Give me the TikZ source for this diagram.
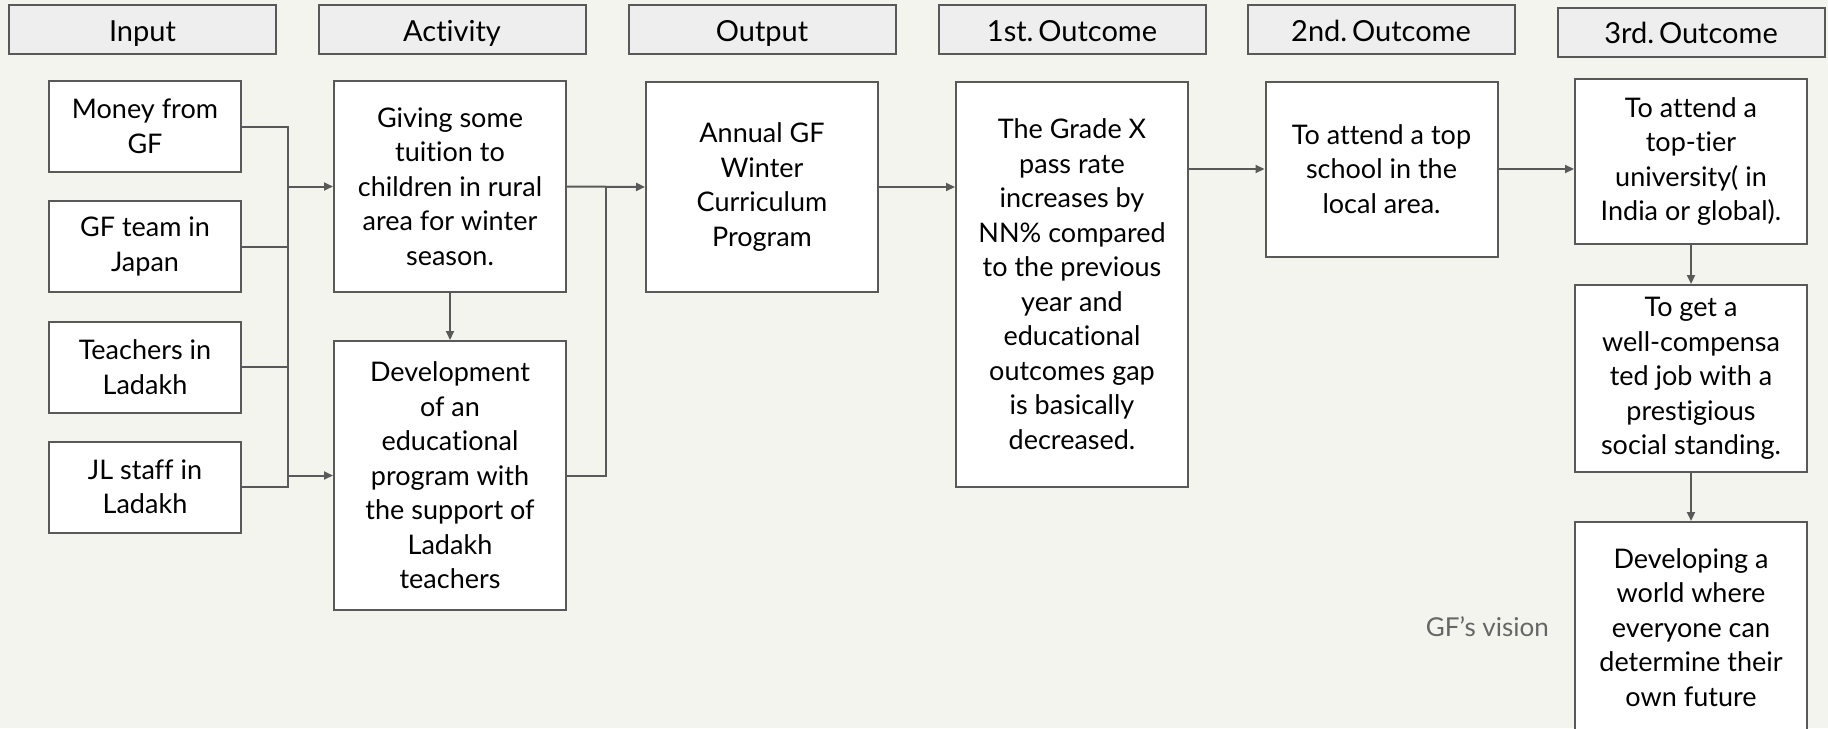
\documentclass[tikz,border=0pt]{standalone}
\usepackage{fontspec}
\setmainfont[Ligatures={TeX,NoCommon}]{Lato}
\usetikzlibrary{arrows.meta}

\definecolor{paper}{HTML}{F4F4EF}
\definecolor{linegray}{HTML}{595959}
\definecolor{headgray}{HTML}{EEEEEE}
\definecolor{visiongray}{HTML}{666666}

\tikzset{
	head/.style={draw=linegray, line width=2pt, fill=headgray, minimum width=267pt, minimum height=49pt, inner sep=0pt, text height=23.5pt, text depth=0pt, font=\fontsize{29}{34}\selectfont},
	box/.style={draw=linegray, line width=2pt, fill=white, align=center, inner sep=0pt, minimum width=232pt, font=\fontsize{27}{34.5}\selectfont},
	inbox/.style={box, minimum width=192pt, minimum height=91pt},
	wire/.style={draw=linegray, line width=2pt},
	link/.style={wire, -{Triangle[length=9pt,width=8pt]}},
}

\begin{document}
\begin{tikzpicture}[x=1pt, y=-1pt]
				\useasboundingbox[fill=paper] (0,0) rectangle (1828,728);
				
				% column heads
				\node[head] (hinput) at (142.5,29.5) {Input};
				\node[head] (hactivity) at (452,29.5) {Activity};
				\node[head] (houtput) at (762,29.5) {Output};
				\node[head] (hfirst) at (1072,29.5) {1st.\,Outcome};
				\node[head] (hsecond) at (1381,29.5) {2nd.\,Outcome};
				\node[head] (hthird) at (1691,32) {3rd.\,Outcome};
				
				% input
				\node[inbox] (money) at (145,126.5) {Money from\\GF};
				\node[inbox] (team) at (145,246.5) {GF team in\\Japan};
				\node[inbox] (teachers) at (145,367) {Teachers in\\Ladakh};
				\node[inbox] (staff) at (145,487) {JL staff in\\Ladakh};
				
				% activity
				\node[box, minimum height=211pt] (tuition) at (450,186.5) {Giving some\\tuition to\\children in rural\\area for winter\\season.};
				\node[box, minimum height=269pt] (develop) at (450,475.5) {Development\\of an\\educational\\program with\\the support of\\Ladakh\\teachers};
				
				% output and outcomes
				\node[box, minimum height=210pt] (program) at (762,187) {Annual GF\\Winter\\Curriculum\\Program};
				\node[box, minimum height=405pt] (grade) at (1072,284) {The Grade X\\pass rate\\increases by\\NN\% compared\\to the previous\\year and\\educational\\outcomes gap\\is basically\\decreased.};
				\node[box, minimum height=175pt] (school) at (1381.5,169) {To attend a top\\school in the\\local area.};
				\node[box, minimum height=165pt] (university) at (1691,161.5) {To attend a\\top-tier\\university( in\\India or global).};
				\node[box, minimum height=187pt] (job) at (1691,378.5) {To get a\\well-compensa\\ted job with a\\prestigious\\social standing.};
				\node[box, minimum height=211pt] (vision) at (1691,627.5) {Developing a\\world where\\everyone can\\determine their\\own future};
				\node[anchor=east, text=visiongray, inner sep=0pt, font=\fontsize{26}{30}\selectfont] (visionlabel) at (1549,627) {GF’s vision};
				
				% buses
				\coordinate (busin) at (288,0);
				\coordinate (busout) at (605.5,0);
				
				\draw[wire] (money.east) -| (busin |- staff.east) -- (staff.east);
				\draw[wire] (team.east) -- (team.east -| busin);
				\draw[wire] (teachers.east) -- (teachers.east -| busin);
				\draw[link] (tuition.west -| busin) -- (tuition.west);
				\draw[link] (develop.west -| busin) -- (develop.west);
				\draw[link] (tuition.south) -- (develop.north);
				
				\draw[wire] (develop.east) -| (busout |- tuition.east);
				\draw[link] (tuition.east) -- (program.west);
				\draw[link] (program.east) -- (program.east -| grade.west);
				\draw[link] (grade.east |- school.west) -- (school.west);
				\draw[link] (school.east) -- (school.east -| university.west);
				\draw[link] (university.south) -- (job.north);
				\draw[link] (job.south) -- (vision.north);
\end{tikzpicture}
\end{document}
